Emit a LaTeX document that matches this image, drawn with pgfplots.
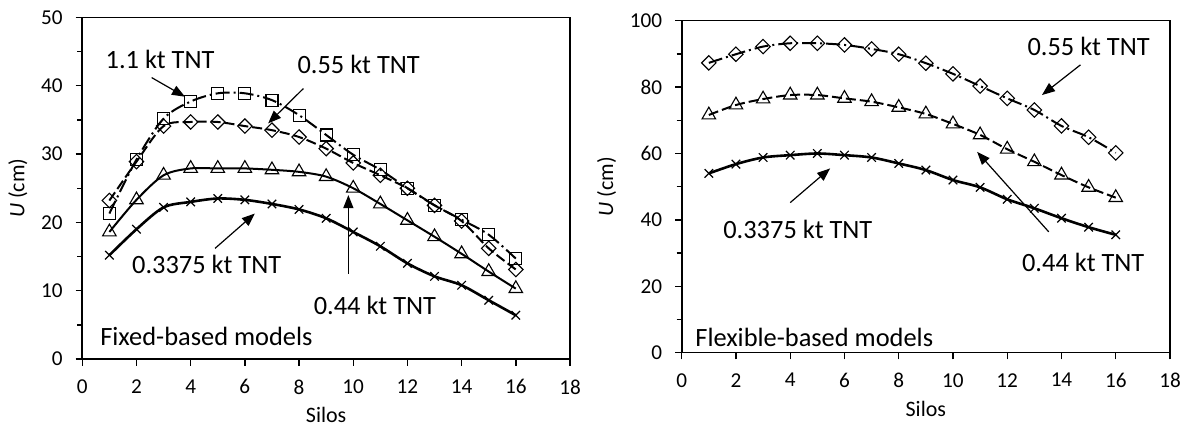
\documentclass[border=0pt]{standalone}
\usepackage{pgfplots}
\pgfplotsset{compat=1.18}
\usepackage{fontspec}
\setmainfont{Carlito}
\usetikzlibrary{arrows.meta}

\tikzset{
 ann/.style={font=\fontsize{13.2}{15}\selectfont, inner sep=0pt},
 arr/.style={-{Triangle[length=6.5pt,width=5pt]}, line width=0.6pt},
 dashdot/.style={dash pattern=on 7pt off 2pt on 1pt off 2pt},
 dsh/.style={dash pattern=on 5pt off 2pt},
}
\pgfplotsset{
 silo/.style={
  scale only axis, anchor=south west,
  xmin=0,xmax=18, xtick={0,2,...,18},
  tick align=outside, tick pos=left,
  minor y tick num=1,
  major tick length=3.3pt, minor tick length=2.6pt,
  every tick/.style={black, line width=0.7pt},
  axis line style={line width=0.8pt},
  tick label style={font=\fontsize{10.6}{12}\selectfont},
  yticklabel style={xshift=-3pt},
  xticklabel style={yshift=-3.5pt},
  label style={font=\fontsize{11}{12}\selectfont},
  xlabel style={yshift=0.3pt},
  /pgf/number format/assume math mode=true,
  xlabel={Silos}, ylabel={\textit{U} (cm)},
  clip=false,
 },
 sq/.style={black, line width=1pt, smooth, mark=square, mark size=3pt, mark options={solid, fill=white, line width=0.55pt}},
 di/.style={black, line width=1pt, smooth, mark=square, mark size=2.55pt, mark options={solid, fill=white, line width=0.55pt, rotate=45}},
 tr/.style={black, line width=1pt, smooth, mark=triangle, mark size=3.9pt, mark options={solid, fill=white, line width=0.55pt}},
 cr/.style={black, line width=1.3pt, smooth, mark=x, mark size=3pt, mark options={solid, line width=0.6pt}},
}

\begin{document}
\begin{tikzpicture}
\useasboundingbox (0,0) rectangle (595pt,213pt);

% ---------- Left: fixed-based ----------
\begin{axis}[silo, at={(41.15pt,33.5pt)}, width=243.85pt, height=170.75pt,
  ymin=0, ymax=50, ytick={0,10,...,50}]
\addplot[sq, dashdot] coordinates {(1,21.3)(2,29.2)(3,35.2)(4,37.7)(5,38.9)(6,38.9)(7,37.9)(8,35.7)(9,32.8)(10,29.9)(11,27.7)(12,25.0)(13,22.5)(14,20.4)(15,18.2)(16,14.7)};
\addplot[di, dsh] coordinates {(1,23.2)(2,28.9)(3,34.1)(4,34.7)(5,34.7)(6,34.1)(7,33.5)(8,32.5)(9,30.8)(10,28.7)(11,26.9)(12,25.0)(13,22.5)(14,20.2)(15,16.2)(16,13.1)};
\addplot[tr] coordinates {(1,18.6)(2,23.3)(3,26.9)(4,27.9)(5,27.9)(6,27.9)(7,27.7)(8,27.4)(9,26.7)(10,25.0)(11,22.7)(12,20.3)(13,17.9)(14,15.4)(15,12.8)(16,10.3)};
\addplot[cr] coordinates {(1,15.2)(2,19.0)(3,22.2)(4,23.0)(5,23.5)(6,23.3)(7,22.7)(8,21.9)(9,20.6)(10,18.6)(11,16.5)(12,14.0)(13,12.1)(14,10.8)(15,8.6)(16,6.4)};

\node[ann] at (axis cs:2.87,43.9) {1.1 kt TNT};
\draw[arr] (axis cs:2.56,41.2) -- (axis cs:3.79,38.4);
\node[ann] at (axis cs:10.2,43.2) {0.55 kt TNT};
\draw[arr] (axis cs:8.16,39.6) -- (axis cs:6.86,34.5);
\node[ann] at (axis cs:4.59,13.8) {0.3375 kt TNT};
\draw[arr] (axis cs:4.90,16.2) -- (axis cs:6.37,21.3);
\node[ann] at (axis cs:10.8,7.9) {0.44 kt TNT};
\draw[arr] (axis cs:9.82,12.5) -- (axis cs:9.82,24.0);
\node[ann, anchor=west] at (axis cs:0.65,3.3) {Fixed-based models};
\end{axis}

% ---------- Right: flexible-based ----------
\begin{axis}[silo, at={(340.85pt,36.65pt)}, width=244.15pt, height=166pt,
  ymin=0, ymax=100, ytick={0,20,...,100}]
\addplot[di, dashdot] coordinates {(1,87.3)(2,89.9)(3,92.2)(4,93.2)(5,93.2)(6,92.7)(7,91.5)(8,89.9)(9,87.2)(10,84.0)(11,80.3)(12,76.6)(13,73.1)(14,68.3)(15,64.9)(16,60.2)};
\addplot[tr, dsh] coordinates {(1,71.6)(2,74.6)(3,76.4)(4,77.6)(5,77.6)(6,76.6)(7,75.6)(8,73.9)(9,71.9)(10,68.9)(11,65.6)(12,61.3)(13,57.5)(14,53.5)(15,49.8)(16,46.7)};
\addplot[cr] coordinates {(1,54.0)(2,56.8)(3,58.8)(4,59.5)(5,60.0)(6,59.5)(7,58.8)(8,57.0)(9,55.0)(10,52.0)(11,49.8)(12,46.2)(13,43.5)(14,40.5)(15,37.8)(16,35.5)};

\node[ann] at (axis cs:15.0,92.2) {0.55 kt TNT};
\draw[arr] (axis cs:14.7,86.7) -- (axis cs:13.28,77.6);
\node[ann] at (axis cs:14.8,27.1) {0.44 kt TNT};
\draw[arr] (axis cs:13.53,36.4) -- (axis cs:10.89,60.5);
\node[ann] at (axis cs:4.28,37.0) {0.3375 kt TNT};
\draw[arr] (axis cs:4.0,45.2) -- (axis cs:5.47,55.5);
\node[ann, anchor=west] at (axis cs:0.49,4.6) {Flexible-based models};
\end{axis}
\end{tikzpicture}
\end{document}
